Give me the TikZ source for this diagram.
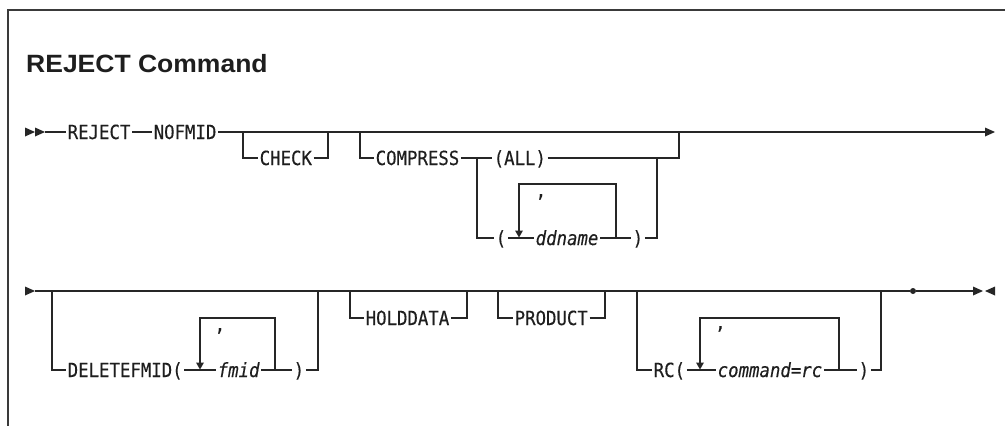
\documentclass[tikz,border=0pt]{standalone}
\usepackage{fontspec}
\newfontfamily\rrfont[FakeStretch=0.89, FakeBold=0.35]{DejaVu Sans Mono}
\newfontfamily\titlefont[FakeStretch=1.06]{Liberation Sans}
\definecolor{linec}{HTML}{262626}
\definecolor{framec}{HTML}{3A3A3A}
\definecolor{textc}{HTML}{1E1E1E}
\tikzset{
  rr/.style={font=\rrfont\fontsize{19.5bp}{21bp}\selectfont, text=textc, inner xsep=1.5bp, inner ysep=0pt,
             text height=14bp, text depth=0pt, anchor=west},
  rri/.style={rr, font=\rrfont\itshape\fontsize{19.5bp}{21bp}\selectfont},
  ln/.style={line width=1.1bp, draw=linec},
  tipfill/.style={fill=linec},
  frameline/.style={line width=1.4bp, draw=framec},
  dotnode/.style={circle, fill=linec, inner sep=0pt, minimum size=6bp},
}
\begin{document}
\begin{tikzpicture}[x=1bp,y=-1bp]
\useasboundingbox (0,0) rectangle (1005,425);
% frame
\coordinate (fBL) at (8,426);
\coordinate (fTL) at (8,10);
\coordinate (fTR) at (1006,10);
\draw[frameline] (fBL) -- (fTL) -- (fTR);
% title
\node[font=\titlefont\bfseries\fontsize{25bp}{29bp}\selectfont, text=textc, anchor=base west, inner sep=0pt] (title) at (26,72) {REJECT Command};

%% ---------------- Row 1 ----------------
\coordinate (s1) at (25,132);
\coordinate (s1m) at (35,132);
\coordinate (s1b) at (45,132);
\fill[tipfill] (s1) ++(0,-4.5) -- ++(10,4.5) -- ++(-10,4.5) -- cycle;
\fill[tipfill] (s1m) ++(0,-4.5) -- ++(10,4.5) -- ++(-10,4.5) -- cycle;
\node[rr] (reject) at (66,132) {REJECT};
\node[rr] (nofmid) at (152,132) {NOFMID};
\coordinate (e1) at (985,132);
\draw[ln] (s1b) -- (reject.west) (reject.east) -- (nofmid.west) (nofmid.east) -- (e1);
\fill[tipfill] (e1) ++(0,-4.5) -- ++(10,4.5) -- ++(-10,4.5) -- cycle;

% CHECK
\coordinate (chkL) at (243,132);
\coordinate (chkR) at (328,132);
\node[rr] (check) at (258,158) {CHECK};
\draw[ln] (chkL) |- (check.west) (check.east) -| (chkR);

% COMPRESS
\coordinate (cmpL) at (360,132);
\coordinate (cmpR) at (679,132);
\node[rr] (compress) at (374,158) {COMPRESS};
\node[rr] (all) at (492,158) {(ALL)};
\draw[ln] (cmpL) |- (compress.west) (compress.east) -- (all.west) (all.east) -| (cmpR);
\coordinate (ddJ) at (477,158);
\coordinate (ddR) at (657,158);
\node[rr] (lp1) at (494,238) {(};
\node[rri] (ddname) at (534,238) {ddname};
\node[rr] (rp1) at (631,238) {)};
\draw[ln] (ddJ) |- (lp1.west) (lp1.east) -- (ddname.west) (ddname.east) -- (rp1.west) (rp1.east) -| (ddR);
% repeat loop
\coordinate (l1R) at (616,238);
\coordinate (l1T) at (519,184);
\coordinate (l1A) at (519,230.5);
\draw[ln] (l1R) |- (l1T) -- (l1A);
\fill[tipfill] (l1A) ++(-4,0) -- ++(8,0) -- ++(-4,7) -- cycle;
\node[rr, anchor=base west] (c1) at (534,197) {,};

%% ---------------- Row 2 ----------------
\coordinate (s2) at (25,291);
\coordinate (s2b) at (35,291);
\fill[tipfill] (s2) ++(0,-4.5) -- ++(10,4.5) -- ++(-10,4.5) -- cycle;
\node[dotnode] (dot) at (913,291) {};
\coordinate (e2) at (973,291);
\coordinate (e2b) at (995,291);
\draw[ln] (s2b) -- (dot) -- (e2);
\fill[tipfill] (e2) ++(0,-4.5) -- ++(10,4.5) -- ++(-10,4.5) -- cycle;
\fill[tipfill] (e2b) ++(0,-4.5) -- ++(-10,4.5) -- ++(10,4.5) -- cycle;

% DELETEFMID
\coordinate (dfL) at (52,291);
\coordinate (dfR) at (318,291);
\node[rr] (delf) at (66,370) {DELETEFMID(};
\node[rri] (fmid) at (216,370) {fmid};
\node[rr] (rp2) at (292,370) {)};
\draw[ln] (dfL) |- (delf.west) (delf.east) -- (fmid.west) (fmid.east) -- (rp2.west) (rp2.east) -| (dfR);
\coordinate (l2R) at (275,370);
\coordinate (l2T) at (200,318);
\coordinate (l2A) at (200,362.5);
\draw[ln] (l2R) |- (l2T) -- (l2A);
\fill[tipfill] (l2A) ++(-4,0) -- ++(8,0) -- ++(-4,7) -- cycle;
\node[rr, anchor=base west] (c2) at (213,331) {,};

% HOLDDATA
\coordinate (hdL) at (350,291);
\coordinate (hdR) at (467,291);
\node[rr] (hold) at (364,318) {HOLDDATA};
\draw[ln] (hdL) |- (hold.west) (hold.east) -| (hdR);

% PRODUCT
\coordinate (prL) at (498,291);
\coordinate (prR) at (605,291);
\node[rr] (prod) at (513,318) {PRODUCT};
\draw[ln] (prL) |- (prod.west) (prod.east) -| (prR);

% RC
\coordinate (rcL) at (637,291);
\coordinate (rcR) at (881,291);
\node[rr] (rc) at (652,370) {RC(};
\node[rri] (cmd) at (716,370) {command=rc};
\node[rr] (rp3) at (857,370) {)};
\draw[ln] (rcL) |- (rc.west) (rc.east) -- (cmd.west) (cmd.east) -- (rp3.west) (rp3.east) -| (rcR);
\coordinate (l3R) at (839,370);
\coordinate (l3T) at (700,318);
\coordinate (l3A) at (700,362.5);
\draw[ln] (l3R) |- (l3T) -- (l3A);
\fill[tipfill] (l3A) ++(-4,0) -- ++(8,0) -- ++(-4,7) -- cycle;
\node[rr, anchor=base west] (c3) at (713.5,329) {,};
\end{tikzpicture}
\end{document}
